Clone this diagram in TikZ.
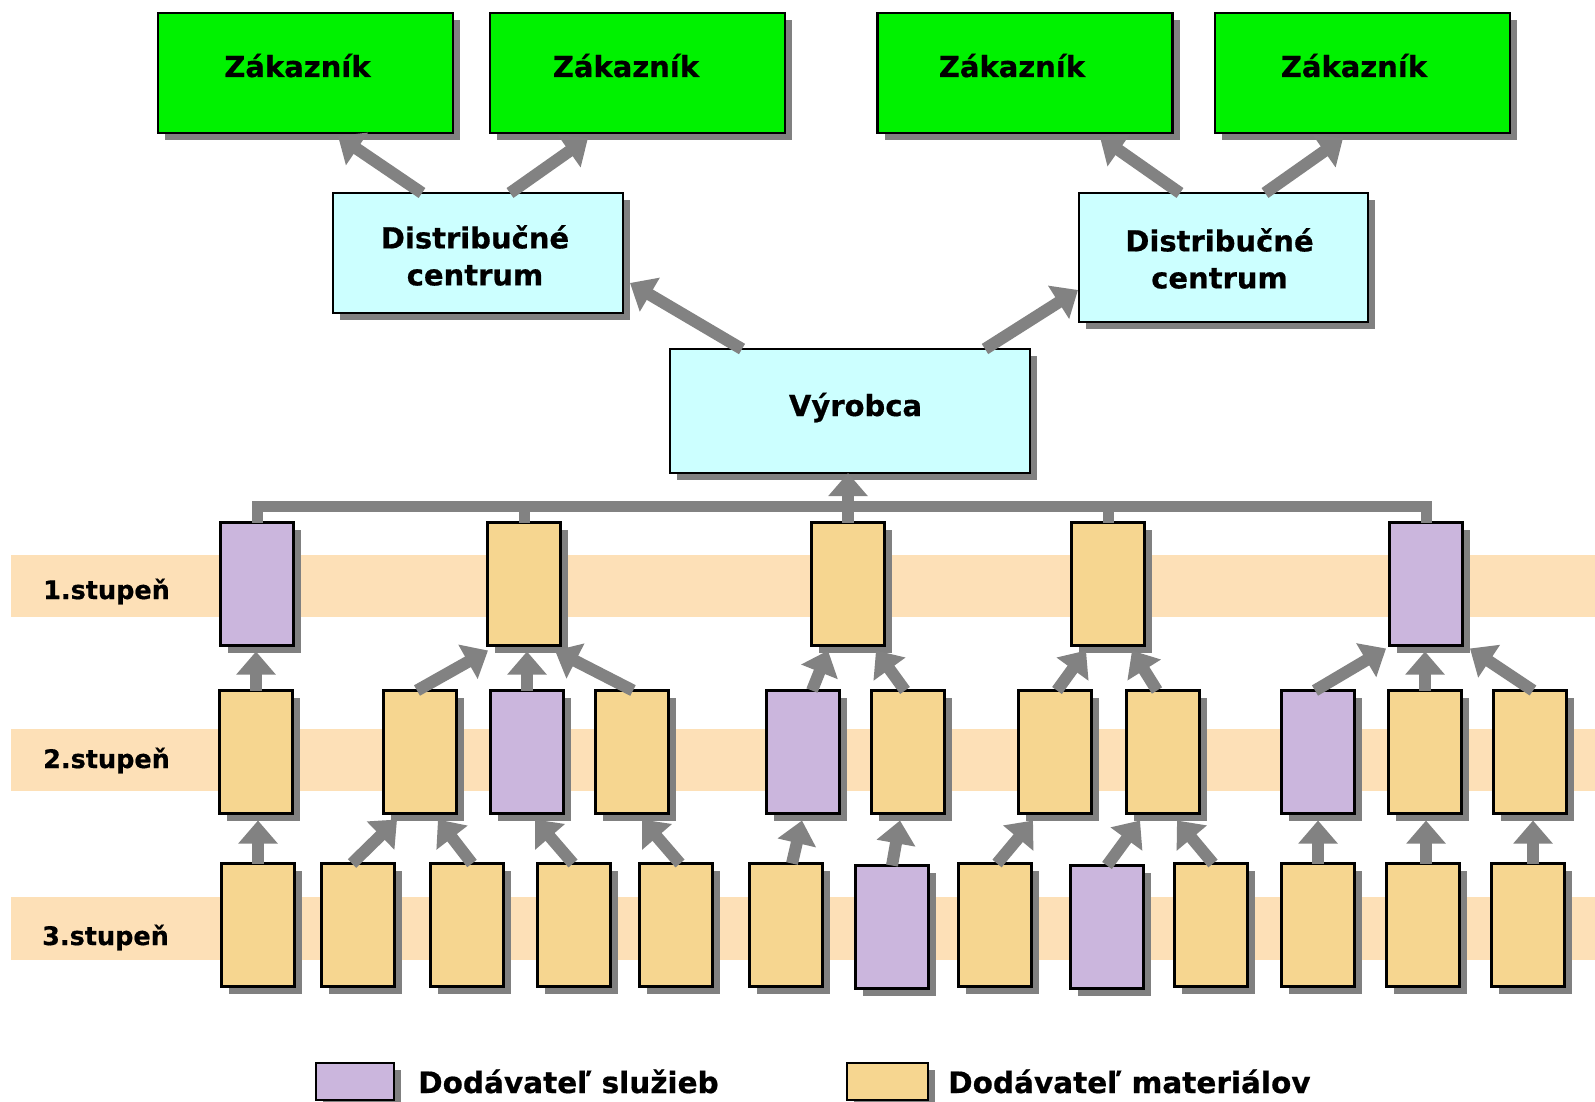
\documentclass[tikz,border=0pt]{standalone}
\usepackage{fontspec}
\setmainfont{DejaVu Sans}[BoldFeatures={FakeBold=0.6}]
\usetikzlibrary{arrows.meta,shadows,calc}
\definecolor{custgreen}{HTML}{00F200}
\definecolor{hubcyan}{HTML}{CCFFFF}
\definecolor{svcpurple}{HTML}{CBB6DD}
\definecolor{matyellow}{HTML}{F6D690}
\definecolor{bandpeach}{HTML}{FDE0B7}
\definecolor{shadowgray}{HTML}{808080}
\definecolor{flowgray}{HTML}{828282}
\begin{document}
\begin{tikzpicture}[x=1pt,y=-1pt,
  box/.style={draw=black, line width=2.5pt, inner sep=0pt, outer sep=0pt,
    drop shadow={shadow xshift=7pt, shadow yshift=-7pt, fill=shadowgray, opacity=1}},
  cust/.style={box, fill=custgreen, minimum width=295pt, minimum height=120pt},
  hub/.style={box, fill=hubcyan},
  supbox/.style={box, minimum width=73pt, minimum height=123pt},
  mat/.style={supbox, fill=matyellow},
  svc/.style={supbox, fill=svcpurple},
  keybox/.style={box, minimum height=37pt},
  flow/.style={draw=flowgray, line width=12pt, -{Triangle[width=38pt,length=23pt]}},
  bus/.style={draw=flowgray, line width=11pt},
  txt/.style={font=\fontsize{29}{37}\selectfont\bfseries, align=center, inner sep=0pt},
  lvl/.style={font=\fontsize{25.5}{30}\selectfont\bfseries, inner sep=0pt, anchor=base west},
  key/.style={font=\fontsize{29.5}{34}\selectfont\bfseries, inner sep=0pt, anchor=base west}
]
\useasboundingbox (0,0) rectangle (1595,1102);
\fill[white] (0,0) rectangle (1595,1102);

% tier bands
\fill[bandpeach] (11,555) rectangle (1595,617);
\fill[bandpeach] (11,729) rectangle (1595,791);
\fill[bandpeach] (11,897) rectangle (1595,960);
\node[lvl] (t1) at (43,599) {1.stupeň};
\node[lvl] (t2) at (43,768) {2.stupeň};
\node[lvl] (t3) at (42,945) {3.stupeň};

% customers
\node[cust] (c1) at (305.5,73) {};
\node[cust] (c2) at (637.5,73) {};
\node[cust] (c3) at (1025,73) {};
\node[cust] (c4) at (1362.5,73) {};
\node[txt, anchor=base] (c1t) at (297.5,77) {Zákazník};
\node[txt, anchor=base] (c2t) at (626,77) {Zákazník};
\node[txt, anchor=base] (c3t) at (1012,77) {Zákazník};
\node[txt, anchor=base] (c4t) at (1354,77) {Zákazník};

% distribution centres and producer
\node[hub, minimum width=290pt, minimum height=120pt] (d1) at (478,253) {};
\node[hub, minimum width=289pt, minimum height=129pt] (d2) at (1223.5,257.5) {};
\node[txt] (d1t) at (475,255.5) {Distribučné\\centrum};
\node[txt] (d2t) at (1219.5,258.5) {Distribučné\\centrum};
\node[hub, minimum width=360pt, minimum height=124pt] (vyr) at (850,411) {};
\node[txt, anchor=base] (vyrt) at (855.5,416) {Výrobca};

% tier 1 suppliers
\node[svc] (l1a) at (257,584) {};
\node[mat] (l1b) at (524,584) {};
\node[mat] (l1c) at (848,584) {};
\node[mat] (l1d) at (1108,584) {};
\node[svc] (l1e) at (1426,584) {};

% tier 2 suppliers
\node[mat] (l2a) at (256,752) {};
\node[mat] (l2b) at (420,752) {};
\node[svc] (l2c) at (527,752) {};
\node[mat] (l2d) at (632,752) {};
\node[svc] (l2e) at (803,752) {};
\node[mat] (l2f) at (908,752) {};
\node[mat] (l2g) at (1055,752) {};
\node[mat] (l2h) at (1163,752) {};
\node[svc] (l2i) at (1318,752) {};
\node[mat] (l2j) at (1425,752) {};
\node[mat] (l2k) at (1530,752) {};

% tier 3 suppliers
\node[mat] (l3a) at (258,925) {};
\node[mat] (l3b) at (358,925) {};
\node[mat] (l3c) at (467,925) {};
\node[mat] (l3d) at (574,925) {};
\node[mat] (l3e) at (676,925) {};
\node[mat] (l3f) at (786,925) {};
\node[svc] (l3g) at (892,927) {};
\node[mat] (l3h) at (995,925) {};
\node[svc] (l3i) at (1107,927) {};
\node[mat] (l3j) at (1211,925) {};
\node[mat] (l3k) at (1318,925) {};
\node[mat] (l3l) at (1423,925) {};
\node[mat] (l3m) at (1528,925) {};

% producer -> distribution -> customers
\draw[flow] ([xshift=-56pt]d1.north) -- ([xshift=32.5pt,yshift=-3pt]c1.south);
\draw[flow] ([xshift=32pt]d1.north) -- ([xshift=-49.5pt,yshift=-5pt]c2.south);
\draw[flow] ([xshift=-43.5pt]d2.north) -- ([xshift=75pt,yshift=-4pt]c3.south);
\draw[flow] ([xshift=41.5pt]d2.north) -- ([xshift=-19.5pt,yshift=-5pt]c4.south);
\draw[flow] ([xshift=-108pt]vyr.north) -- ([xshift=7pt,yshift=-30pt]d1.east);
\draw[flow] ([xshift=135pt]vyr.north) -- ([xshift=-1pt,yshift=-32.5pt]d2.west);

% tier 1 collector bar
\draw[bus, line join=miter] (l1a.north) -- ++(0,-16) -| (l1e.north);
\draw[bus] (l1b.north) -- ++(0,-20);
\draw[bus] (l1d.north) -- ++(0,-20);
\draw[flow] (l1c.north) -- (l1c.north |- vyr.south);

% tier 2 -> tier 1
\draw[flow] (l2a.north) -- ($(l2a.north |- l1a.south)+(0,6)$);
\draw[flow] ([xshift=-3pt]l2b.north) -- ([xshift=-36pt,yshift=-5pt]l1b.south);
\draw[flow] (l2c.north) -- ($(l2c.north |- l1b.south)+(0,6)$);
\draw[flow] ([xshift=1pt]l2d.north) -- ([xshift=31pt,yshift=-5pt]l1b.south);
\draw[flow] ([xshift=9pt]l2e.north) -- ([xshift=-20pt,yshift=-5pt]l1c.south);
\draw[flow] ([xshift=-3pt]l2f.north) -- ([xshift=28pt,yshift=-5pt]l1c.south);
\draw[flow] ([xshift=2pt]l2g.north) -- ([xshift=-22pt,yshift=-5pt]l1d.south);
\draw[flow] ([xshift=-6pt]l2h.north) -- ([xshift=24pt,yshift=-5pt]l1d.south);
\draw[flow] ([xshift=-3pt]l2i.north) -- ([xshift=-40pt,yshift=-3pt]l1e.south);
\draw[flow] (l2j.north) -- ($(l2j.north |- l1e.south)+(0,6)$);
\draw[flow] ([xshift=3pt]l2k.north) -- ([xshift=44pt,yshift=-3pt]l1e.south);

% tier 3 -> tier 2
\draw[flow] (l3a.north) -- ($(l3a.north |- l2a.south)+(0,7)$);
\draw[flow] ([xshift=-6pt]l3b.north) -- ([xshift=-23pt,yshift=-6pt]l2b.south);
\draw[flow] ([xshift=5pt]l3c.north) -- ([xshift=18pt,yshift=-6pt]l2b.south);
\draw[flow] ([xshift=-1pt]l3d.north) -- ([xshift=8pt,yshift=-6pt]l2c.south);
\draw[flow] ([xshift=4pt]l3e.north) -- ([xshift=10pt,yshift=-6pt]l2d.south);
\draw[flow] ([xshift=6pt]l3f.north) -- ([xshift=-1pt,yshift=-7pt]l2e.south);
\draw[flow] (l3g.north) -- ([xshift=-8pt,yshift=-7pt]l2f.south);
\draw[flow] ([xshift=2pt]l3h.north) -- ([xshift=-22pt,yshift=-7pt]l2g.south);
\draw[flow] (l3i.north) -- ([xshift=-23pt,yshift=-7pt]l2h.south);
\draw[flow] ([xshift=2pt]l3j.north) -- ([xshift=14pt,yshift=-7pt]l2h.south);
\draw[flow] (l3k.north) -- ($(l3k.north |- l2i.south)+(0,7)$);
\draw[flow] ([xshift=3pt]l3l.north) -- ($([xshift=3pt]l3l.north |- l2j.south)+(0,7)$);
\draw[flow] ([xshift=5pt]l3m.north) -- ($([xshift=5pt]l3m.north |- l2k.south)+(0,7)$);

% legend
\node[keybox, fill=svcpurple, minimum width=78pt] (k1) at (355,1081.5) {};
\node[key] (k1t) at (418,1093) {Dodávateľ služieb};
\node[keybox, fill=matyellow, minimum width=81pt] (k2) at (887.5,1081.5) {};
\node[key] (k2t) at (948,1093) {Dodávateľ materiálov};
\end{tikzpicture}
\end{document}
